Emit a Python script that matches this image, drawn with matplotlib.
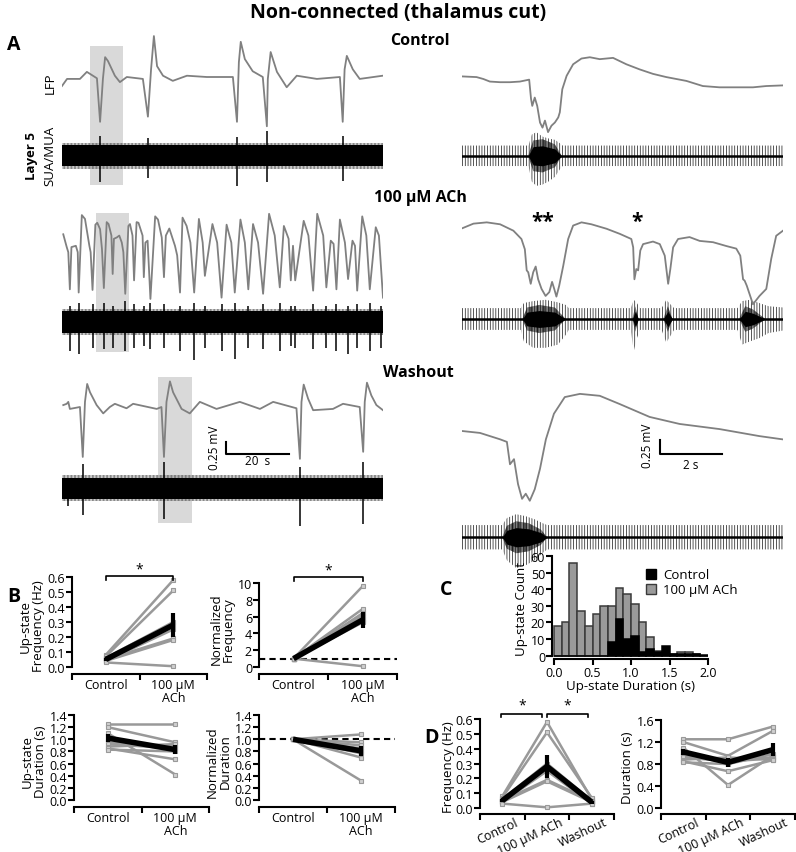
import matplotlib
matplotlib.use('Agg')
import matplotlib.pyplot as plt
import numpy as np
from matplotlib.patches import Patch

plt.rcParams['font.family'] = ['Open Sans', 'DejaVu Sans']
plt.rcParams['hatch.linewidth'] = 0.5

# ---------------- DATA ----------------
# Panel A, left column (time in s, LFP in mV)
ctrl_long_t = [0, 1.6, 5.7, 7.9, 11.1, 12.1, 13.0, 13.7, 14.6, 16.8, 18.4, 20.6, 25.7, 27.3, 28.3, 29.2,
               30.2, 32.1, 35.2, 39.7, 46.0, 54.3, 55.6, 56.2, 56.8, 58.1, 60.6, 63.8, 65.1, 65.4, 66.3,
               68.3, 71.4, 74.6, 81.0, 88.3, 89.2, 89.8, 90.5, 92.4, 94.6, 101.9]
ctrl_long_v = [-0.14, -0.03, -0.03, 0.08, -0.02, -0.70, -0.03, 0.31, 0.25, 0.02, -0.08, 0, -0.03, -0.62,
               0.12, 0.64, 0.17, 0.02, -0.06, 0.02, 0, 0, -0.70, 0.23, 0.55, 0.28, 0.09, 0, -0.77, -0.03,
               0.39, 0.08, -0.16, 0.02, -0.03, 0, -0.70, 0.12, 0.33, 0.12, -0.03, 0.02]
ctrl_long_burst_t = [12.1, 27.3, 55.6, 65.1, 89.2]
ctrl_long_burst_up = [0.31, 0.27, 0.30, 0.38, 0.31]
ctrl_long_burst_dn = [0.41, 0.35, 0.47, 0.41, 0.39]

ach_long_t = [0.4, 1.5, 2.0, 2.5, 3.0, 4.4, 5.0, 5.3, 6.3, 7.3, 8.7, 9.1, 9.7, 10.6, 11.2, 12.1, 12.7, 13.3,
              14.2, 14.8, 15.7, 16.1, 16.5, 17.4, 18.2, 19.0, 19.5, 20.1, 21.1, 21.6, 22.4, 22.9, 23.7,
              24.3, 25.6, 26.0, 26.5, 27.2, 28.1, 29.6, 30.5, 31.7, 32.4, 33.0, 34.1, 35.9, 36.6, 37.5,
              38.3, 39.6, 40.8, 42.0, 43.5, 44.7, 45.4, 47.8, 49.3, 50.7, 52.3, 53.8, 54.9, 56.7, 58.1,
              59.2, 60.7, 62.3, 63.9, 65.8, 67.6, 69.2, 70.5, 72.0, 72.7, 73.4, 74.1, 76.8, 78.3, 79.8,
              81.1, 83.0, 84.0, 85.4, 86.3, 87.2, 88.3, 89.9, 90.9, 92.3, 93.1, 93.8, 95.4, 96.7, 97.8,
              99.7, 100.7, 102.0]
ach_long_v = [0.23, 0.03, -0.05, -0.63, 0.03, 0.05, -0.05, -0.68, 0.53, 0.47, 0.05, -0.05, -0.64, 0.38,
              0.41, 0.31, 0, -0.61, 0.42, 0.39, 0.21, -0.39, 0.16, 0.18, 0.21, 0.10, -0.05, -0.70, 0.36,
              0.39, 0.21, -0.49, 0.42, 0.41, 0.21, -0.44, 0.10, 0.13, -0.78, 0.51, 0.46, 0.18, -0.44,
              0.21, 0.32, 0.05, -0.10, -0.68, 0.49, 0.36, 0.10, -0.68, 0.47, 0.10, -0.42, 0.39, 0.10,
              -0.76, 0.38, 0.10, -0.68, 0.46, 0.10, -0.63, 0.39, 0.10, -0.70, 0.55, 0.21, -0.60, 0.36,
              0.16, -0.49, 0.05, -0.49, 0.44, 0.21, -0.65, 0.55, 0.21, -0.60, 0.13, 0.08, -0.63, 0.46,
              0.10, -0.47, 0.13, 0.05, -0.65, 0.51, 0.21, -0.63, 0.34, 0.21, -0.76]
ach_long_burst_t = [2.5, 5.3, 9.7, 13.3, 16.1, 20.1, 22.9, 26.0, 28.1, 32.4, 37.5, 42.0, 45.4, 50.7, 54.9,
                    59.2, 63.9, 69.2, 72.7, 74.1, 79.8, 84.0, 87.2, 90.9, 93.8, 97.8, 101.5]
ach_long_burst_up = [0.25, 0.30, 0.28, 0.30, 0.25, 0.32, 0.28, 0.25, 0.30, 0.28, 0.25, 0.30, 0.25, 0.28,
                     0.30, 0.25, 0.28, 0.30, 0.25, 0.25, 0.28, 0.25, 0.28, 0.25, 0.28, 0.30, 0.25]
ach_long_burst_dn = [0.45, 0.50, 0.40, 0.42, 0.40, 0.45, 0.40, 0.38, 0.42, 0.40, 0.45, 0.60, 0.40, 0.45,
                     0.58, 0.40, 0.42, 0.45, 0.38, 0.40, 0.42, 0.40, 0.45, 0.50, 0.40, 0.45, 0.40]

wash_long_t = [0.4, 1.5, 2.0, 2.5, 5.7, 6.6, 7.3, 8.0, 8.9, 11.0, 13.1, 15.2, 16.8, 20.5, 22.6, 30.1, 31.6,
               32.4, 33.2, 34.3, 35.3, 38.0, 40.6, 43.8, 49.1, 56.5, 62.9, 67.1, 74.5, 75.6, 76.1, 76.8,
               78.2, 79.8, 86.1, 89.3, 94.6, 95.7, 96.2, 96.9, 98.3, 99.9, 102.0]
wash_long_v = [0.03, 0.05, 0.08, -0.03, 0, -0.78, 0.08, 0.36, 0.23, 0.03, -0.10, 0, 0.05, -0.02, 0.05,
               -0.03, 0, -0.78, 0.08, 0.40, 0.23, -0.03, -0.10, 0.08, -0.03, 0.08, -0.03, 0.08, -0.02,
               -0.81, 0.08, 0.35, 0.13, -0.05, -0.03, 0.05, 0, -0.70, 0.08, 0.38, 0.18, 0.03, -0.05]
wash_long_burst_t = [2.0, 6.6, 32.4, 75.6, 95.7]
wash_long_burst_up = [0.16, 0.38, 0.41, 0.34, 0.41]
wash_long_burst_dn = [0.27, 0.41, 0.48, 0.59, 0.56]

# Panel A, right column (expanded, time in s)
ctrl_zoom_t = [0.02, 0.47, 0.69, 0.9, 1.23, 1.55, 1.87, 2.17, 2.23, 2.27, 2.35, 2.43, 2.52, 2.60, 2.68, 2.78,
               2.89, 3.0, 3.11, 3.16, 3.24, 3.38, 3.59, 3.86, 4.13, 4.45, 4.88, 5.31, 5.74, 6.17, 6.60,
               7.25, 7.78, 8.32, 8.75, 9.40, 9.83, 10.37]
ctrl_zoom_v = [0.04, 0.03, 0, -0.04, -0.05, -0.05, -0.04, -0.01, -0.31, -0.42, -0.29, -0.42, -0.68, -0.76,
               -0.65, -0.83, -0.73, -0.68, -0.60, -0.52, -0.16, 0.05, 0.23, 0.32, 0.34, 0.31, 0.33, 0.23,
               0.15, 0.08, 0.03, -0.03, -0.11, -0.13, -0.13, -0.13, -0.11, -0.10]
ctrl_zoom_env_t = [0, 2.15, 2.25, 2.4, 2.6, 2.8, 3.0, 3.15, 3.25, 10.37]
ctrl_zoom_env_up = [0.16, 0.16, 0.33, 0.37, 0.30, 0.27, 0.25, 0.20, 0.16, 0.16]
ctrl_zoom_env_dn = [0.16, 0.16, 0.40, 0.47, 0.45, 0.40, 0.33, 0.22, 0.16, 0.16]
ctrl_zoom_core_t = [2.15, 2.3, 2.6, 3.0, 3.2]
ctrl_zoom_core_h = [0.02, 0.24, 0.26, 0.18, 0.02]

ach_zoom_t = [0.02, 0.37, 0.80, 1.23, 1.66, 1.92, 2.03, 2.09, 2.14, 2.22, 2.30, 2.38, 2.46, 2.57, 2.70, 2.82,
              2.91, 2.98, 3.05, 3.14, 3.27, 3.43, 3.59, 3.86, 4.18, 4.67, 5.10, 5.47, 5.53, 5.57, 5.63,
              5.69, 5.76, 5.85, 6.17, 6.39, 6.55, 6.66, 6.73, 6.82, 6.98, 7.35, 7.68, 8.11, 8.54, 8.86,
              8.99, 9.08, 9.13, 9.20, 9.40, 9.61, 9.83, 9.99, 10.15, 10.37]
ach_zoom_v = [0.17, 0.24, 0.26, 0.23, 0.13, 0, -0.16, -0.49, -0.52, -0.70, -0.52, -0.43, -0.63, -0.78,
              -0.89, -0.83, -0.67, -0.78, -0.90, -0.73, -0.42, 0, 0.21, 0.26, 0.23, 0.16, 0.08, 0, -0.13,
              -0.63, -0.47, -0.49, -0.18, -0.08, -0.04, -0.08, -0.26, -0.70, -0.47, -0.13, 0, 0.03,
              -0.03, -0.05, -0.11, -0.15, -0.26, -0.63, -0.65, -0.73, -1.02, -0.89, -0.78, -0.31, 0.05,
              0.13]
ach_zoom_env_t = [0, 1.9, 2.0, 2.3, 2.7, 3.1, 3.35, 3.45, 5.45, 5.55, 5.65, 5.75, 6.45, 6.6, 6.75, 6.85,
                  8.9, 9.05, 9.3, 9.6, 9.9, 10.37]
ach_zoom_env_up = [0.17, 0.17, 0.25, 0.28, 0.30, 0.26, 0.22, 0.17, 0.17, 0.30, 0.25, 0.17, 0.17, 0.30,
                   0.22, 0.17, 0.17, 0.28, 0.30, 0.25, 0.20, 0.18]
ach_zoom_env_dn = [0.17, 0.17, 0.35, 0.45, 0.45, 0.40, 0.25, 0.17, 0.17, 0.50, 0.30, 0.17, 0.17, 0.37,
                   0.25, 0.17, 0.17, 0.40, 0.35, 0.30, 0.22, 0.18]
ach_zoom_core_t = [1.95, 2.1, 2.5, 3.0, 3.35, 5.5, 5.6, 5.7, 6.5, 6.65, 6.8, 8.95, 9.15, 9.4, 9.8]
ach_zoom_core_h = [0.0, 0.18, 0.22, 0.18, 0.0, 0.0, 0.20, 0.0, 0.0, 0.20, 0.0, 0.0, 0.20, 0.15, 0.0]

wash_zoom_t = [0, 0.58, 1.23, 1.45, 1.55, 1.68, 1.81, 1.94, 2.06, 2.19, 2.35, 2.52, 2.71, 2.97, 3.32, 3.81,
               4.45, 5.10, 6.06, 7.03, 8.32, 9.61, 10.35]
wash_zoom_v = [0, -0.03, -0.13, -0.17, -0.52, -0.44, -0.83, -1.06, -0.98, -1.09, -0.91, -0.59, -0.13,
               0.27, 0.53, 0.58, 0.55, 0.42, 0.22, 0.11, 0.03, -0.08, -0.13]
wash_zoom_env_t = [0, 1.3, 1.45, 1.75, 2.05, 2.35, 2.6, 2.75, 10.37]
wash_zoom_env_up = [0.19, 0.19, 0.30, 0.36, 0.33, 0.28, 0.22, 0.19, 0.19]
wash_zoom_env_dn = [0.19, 0.19, 0.36, 0.48, 0.44, 0.36, 0.25, 0.19, 0.19]
wash_zoom_core_t = [1.3, 1.45, 1.75, 2.15, 2.55, 2.75]
wash_zoom_core_h = [0.0, 0.18, 0.25, 0.22, 0.12, 0.0]

# highlighted windows (s)
ctrl_window = (8.9, 19.4)
ach_window = (10.8, 21.3)
wash_window = (30.5, 41.3)

# Panel B / D: per-slice values
conditions = ['Control', '100 \u03bcM ACh', 'Washout']
freq_ctrl = [0.08, 0.07, 0.06, 0.05, 0.04, 0.05, 0.04, 0.03]
freq_ach = [0.58, 0.51, 0.30, 0.28, 0.25, 0.19, 0.18, 0.005]
freq_wash = [0.06, 0.07, 0.05, 0.04, 0.03, 0.05, 0.04, 0.03]
norm_freq_ach = [9.6, 6.9, 6.4, 6.1, 5.7, 5.5, 5.3, 0.1]
dur_ctrl = [1.25, 1.20, 1.10, 0.95, 0.92, 0.88, 0.85, 0.83]
dur_ach = [1.25, 0.95, 0.42, 0.88, 0.85, 0.92, 0.67, 0.80]
dur_wash = [1.48, 1.40, 0.95, 0.92, 0.90, 0.88, 0.87, 0.98]
norm_dur_ach = [1.08, 0.95, 0.32, 0.90, 0.85, 0.77, 0.70, 0.80]

freq_mean = [0.05, 0.28, 0.04]
freq_sem = [0.01, 0.08, 0.01]
norm_freq_mean = [1.0, 5.6]
norm_freq_sem = [0.0, 1.0]
dur_mean = [1.02, 0.83, 1.06]
dur_sem = [0.06, 0.08, 0.12]
norm_dur_mean = [1.0, 0.81]
norm_dur_sem = [0.0, 0.08]

# Panel C histogram
bin_starts = [0.0, 0.1, 0.2, 0.3, 0.4, 0.5, 0.6, 0.7, 0.8, 0.9, 1.0, 1.1, 1.2, 1.3, 1.4, 1.5, 1.6, 1.7,
              1.8, 1.9]
hist_ach = [18, 20, 56, 27, 18, 25, 30, 30, 41, 37, 31, 20, 11, 3, 0, 1, 2, 2, 1, 0]
hist_ctrl = [0, 0, 0, 0, 0, 0, 0, 8, 22, 10, 12, 2, 4, 2, 6, 1, 1, 1, 1, 0.5]

# ---------------- FIGURE ----------------
W, H = 796, 853
fig = plt.figure(figsize=(W / 100, H / 100), dpi=100)
LFP_C = '#808080'
GRAY = '#999999'
PXMV = 64.0


def rect(x0, y0, x1, y1):
    return [x0 / W, 1 - y1 / H, (x1 - x0) / W, (y1 - y0) / H]


def ftext(x, y, s, **kw):
    return fig.text(x / W, 1 - y / H, s, **kw)


def trace_ax(x0, x1, y0, y1, base, tmax):
    ax = fig.add_axes(rect(x0, y0, x1, y1))
    ax.set_xlim(0, tmax)
    ax.set_ylim(-(y1 - base) / PXMV, (base - y0) / PXMV)
    ax.axis('off')
    return ax


def long_row(ax, t, v, off, bt, bu, bd, window, box_top, box_bot, tmax):
    ax.fill_between(list(window), box_bot, box_top, color='#d9d9d9', lw=0, zorder=0)
    ax.plot(t, v, color=LFP_C, lw=1.3, zorder=3)
    ax.fill_between([0, tmax], off - 0.2, off + 0.2, facecolor='none', edgecolor='#555555',
                    hatch='|' * 12, lw=0, zorder=1)
    ax.fill_between([0, tmax], off - 0.165, off + 0.165, color='black', lw=0, zorder=2)
    ax.vlines(bt, off - np.array(bd), off + np.array(bu), color='black', lw=1.1, zorder=2)


def zoom_row(ax, t, v, off, et, eu, ed, ct, ch, tmax):
    ax.plot(t, v, color=LFP_C, lw=1.3, zorder=3)
    ax.fill_between(et, off - np.array(ed), off + np.array(eu), facecolor='none', edgecolor='#111111',
                    hatch='|' * 6, lw=0, zorder=1)
    ax.fill_between(ct, off - np.array(ch), off + np.array(ch), facecolor='none', edgecolor='black',
                    hatch='|' * 14, lw=0, zorder=2)
    ax.fill_between(ct, off - 0.6 * np.array(ch), off + 0.6 * np.array(ch), color='black', lw=0, zorder=2)
    ax.plot([0, tmax], [off, off], color='black', lw=1.8, zorder=2)


TL, TR = 102.0, 10.37
# Row 1: Control
a = trace_ax(62, 383, 25, 200, 78, TL)
long_row(a, ctrl_long_t, ctrl_long_v, -1.23, ctrl_long_burst_t, ctrl_long_burst_up, ctrl_long_burst_dn,
         ctrl_window, 0.48, -1.69, TL)
a = trace_ax(462, 783, 25, 200, 80, TR)
zoom_row(a, ctrl_zoom_t, ctrl_zoom_v, -1.20, ctrl_zoom_env_t, ctrl_zoom_env_up, ctrl_zoom_env_dn,
         ctrl_zoom_core_t, ctrl_zoom_core_h, TR)
# Row 2: ACh
a = trace_ax(62, 383, 205, 365, 250, TL)
long_row(a, ach_long_t, ach_long_v, -1.14, ach_long_burst_t, ach_long_burst_up, ach_long_burst_dn,
         ach_window, 0.56, -1.61, TL)
a = trace_ax(462, 783, 205, 365, 240, TR)
zoom_row(a, ach_zoom_t, ach_zoom_v, -1.25, ach_zoom_env_t, ach_zoom_env_up, ach_zoom_env_dn,
         ach_zoom_core_t, ach_zoom_core_h, TR)
a.text(2.62, 0.28, '**', ha='center', va='center', fontsize=15, fontweight='bold')
a.text(5.66, 0.28, '*', ha='center', va='center', fontsize=15, fontweight='bold')
# Row 3: Washout
a = trace_ax(62, 383, 370, 580, 408, TL)
long_row(a, wash_long_t, wash_long_v, -1.27, wash_long_burst_t, wash_long_burst_up, wash_long_burst_dn,
         wash_window, 0.47, -1.81, TL)
a.plot([52.1, 52.1, 72.1], [-0.55, -0.73, -0.73], color='black', lw=1.5)
a.text(62.1, -0.84, '20  s', ha='center', va='center', fontsize=8.5)
a.text(48.6, -0.62, '0.25 mV', ha='center', va='center', rotation=90, fontsize=8.5)
a = trace_ax(462, 783, 370, 580, 432, TR)
zoom_row(a, wash_zoom_t, wash_zoom_v, -1.66, wash_zoom_env_t, wash_zoom_env_up, wash_zoom_env_dn,
         wash_zoom_core_t, wash_zoom_core_h, TR)
a.plot([6.39, 6.39, 8.39], [-0.14, -0.36, -0.36], color='black', lw=1.5)
a.text(7.4, -0.53, '2 s', ha='center', va='center', fontsize=8.5)
a.text(6.0, -0.22, '0.25 mV', ha='center', va='center', rotation=90, fontsize=8.5)

# Panel A texts
ftext(398, 13, 'Non-connected (thalamus cut)', ha='center', va='center', fontsize=14, fontweight='bold')
ftext(14, 45, 'A', ha='center', va='center', fontsize=14, fontweight='bold')
ftext(420, 41, 'Control', ha='center', va='center', fontsize=11.5, fontweight='bold')
ftext(420, 198, '100 \u03bcM ACh', ha='center', va='center', fontsize=11.5, fontweight='bold')
ftext(418, 373, 'Washout', ha='center', va='center', fontsize=11.5, fontweight='bold')
ftext(50, 83, 'LFP', ha='center', va='center', rotation=90, fontsize=9.5)
ftext(32, 156, 'Layer 5', ha='center', va='center', rotation=90, fontsize=9.5, fontweight='bold')
ftext(50, 156, 'SUA/MUA', ha='center', va='center', rotation=90, fontsize=9.5)


# ---------------- B / D helpers ----------------
def cat_ax(x0, y0, x1, y1, ncat, ylim, yticks, ylabels, ylabel, cat_labels, rotate=False, labelpad=2):
    ax = fig.add_axes(rect(x0, y0, x1, y1))
    ax.set_xlim(0, ncat)
    ax.set_ylim(*ylim)
    for s in ['top', 'right']:
        ax.spines[s].set_visible(False)
    ax.spines['left'].set_bounds(yticks[0], yticks[-1])
    ax.spines['left'].set_linewidth(1.5)
    ax.spines['bottom'].set_linewidth(1.5)
    ax.set_yticks(yticks)
    ax.set_yticklabels(ylabels)
    ax.set_xticks(range(ncat + 1))
    ax.set_xticklabels([])
    ax.tick_params(axis='both', which='major', direction='out', length=4, width=1.5, labelsize=9, pad=1)
    if rotate:
        ax.set_xticks([i + 0.78 for i in range(ncat)], minor=True)
        ax.set_xticklabels(cat_labels, minor=True, rotation=25, ha='right', va='top',
                           rotation_mode='anchor')
        ax.tick_params(axis='x', which='minor', length=0, labelsize=9, pad=1)
    else:
        ax.set_xticks([i + 0.5 for i in range(ncat)], minor=True)
        ax.set_xticklabels(cat_labels, minor=True, linespacing=0.95)
        ax.tick_params(axis='x', which='minor', length=0, labelsize=9, pad=3)
    ax.set_ylabel(ylabel, fontsize=9.5, labelpad=labelpad, linespacing=0.95)
    return ax


def draw_pairs(ax, series, mean, sem):
    xs = [i + 0.5 for i in range(len(series))]
    for vals in zip(*series):
        ax.plot(xs, vals, color=GRAY, lw=1.8, marker='s', ms=3.2, mfc='#d0d0d0', mec=GRAY, mew=0.8,
                zorder=2, clip_on=False)
    ax.plot(xs, mean, color='black', lw=4, zorder=3, solid_capstyle='butt')
    ax.errorbar(xs, mean, yerr=sem, fmt='none', ecolor='black', elinewidth=3, capsize=0, zorder=4)


def bracket(ax, x0, x1, y, h, star_y):
    ax.plot([x0, x0, x1, x1], [y - h, y, y, y - h], color='black', lw=1.2, clip_on=False)
    ax.text((x0 + x1) / 2, star_y, '*', ha='center', va='center', fontsize=10, clip_on=False)


b_cats = ['Control', '100 \u03bcM\nACh']
ax = cat_ax(72, 578, 207, 675, 2, (-0.047, 0.6), [0.0, 0.1, 0.2, 0.3, 0.4, 0.5, 0.6],
            ['0.0', '0.1', '0.2', '0.3', '0.4', '0.5', '0.6'], 'Up-state\nFrequency (Hz)', b_cats)
draw_pairs(ax, [freq_ctrl, freq_ach], freq_mean[:2], freq_sem[:2])
bracket(ax, 0.5, 1.5, 0.61, 0.03, 0.655)

ax = cat_ax(259, 584, 397, 675, 2, (-0.83, 10), [0, 2, 4, 6, 8, 10], ['0', '2', '4', '6', '8', '10'],
            'Normalized\nFrequency', b_cats)
ax.axhline(1.0, color='black', lw=1.5, ls=(0, (3, 2)), zorder=1)
draw_pairs(ax, [[1.0] * len(norm_freq_ach), norm_freq_ach], norm_freq_mean, norm_freq_sem)
bracket(ax, 0.5, 1.5, 10.7, 0.5, 11.5)

dur_ticks = [0.0, 0.2, 0.4, 0.6, 0.8, 1.0, 1.2, 1.4]
dur_labels = ['0.0', '0.2', '0.4', '0.6', '0.8', '1.0', '1.2', '1.4']
ax = cat_ax(74, 716, 209, 808, 2, (-0.115, 1.4), dur_ticks, dur_labels, 'Up-state\nDuration (s)', b_cats)
draw_pairs(ax, [dur_ctrl, dur_ach], dur_mean[:2], dur_sem[:2])

ax = cat_ax(259, 716, 395, 808, 2, (-0.115, 1.4), dur_ticks, dur_labels, 'Normalized\nDuration', b_cats)
ax.axhline(1.0, color='black', lw=1.5, ls=(0, (3, 2)), zorder=1)
draw_pairs(ax, [[1.0] * len(norm_dur_ach), norm_dur_ach], norm_dur_mean, norm_dur_sem)

# Panel D
ax = cat_ax(480, 720, 614, 815, 3, (-0.04, 0.6), [0.0, 0.1, 0.2, 0.3, 0.4, 0.5, 0.6],
            ['0.0', '0.1', '0.2', '0.3', '0.4', '0.5', '0.6'], 'Frequency (Hz)', conditions, rotate=True,
            labelpad=0)
draw_pairs(ax, [freq_ctrl, freq_ach, freq_wash], freq_mean, freq_sem)
bracket(ax, 0.48, 1.39, 0.635, 0.02, 0.695)
bracket(ax, 1.5, 2.41, 0.635, 0.02, 0.695)

ax = cat_ax(661, 721, 795, 815, 3, (-0.107, 1.6), [0.0, 0.4, 0.8, 1.2, 1.6],
            ['0.0', '0.4', '0.8', '1.2', '1.6'], 'Duration (s)', conditions, rotate=True)
draw_pairs(ax, [dur_ctrl, dur_ach, dur_wash], dur_mean, dur_sem)

# Panel C histogram
ax = fig.add_axes(rect(552, 557, 708, 660))
ax.bar(bin_starts, hist_ach, width=0.1, align='edge', color='#9a9a9a', edgecolor='#3a3a3a', lw=1.1,
       zorder=2)
ax.bar(bin_starts, hist_ctrl, width=0.1, align='edge', color='black', edgecolor='black', lw=1.1, zorder=3)
ax.set_xlim(-0.026, 2.0)
ax.set_ylim(-2, 60)
for s in ['top', 'right']:
    ax.spines[s].set_visible(False)
ax.spines['left'].set_bounds(0, 60)
ax.spines['bottom'].set_bounds(0, 2.0)
ax.spines['left'].set_linewidth(1.5)
ax.spines['bottom'].set_linewidth(1.5)
ax.set_xticks([0.0, 0.5, 1.0, 1.5, 2.0])
ax.set_xticklabels(['0.0', '0.5', '1.0', '1.5', '2.0'])
ax.set_yticks([0, 10, 20, 30, 40, 50, 60])
ax.tick_params(direction='out', length=4, width=1.5, labelsize=9, pad=1)
ax.set_xlabel('Up-state Duration (s)', fontsize=9.5, labelpad=0)
ax.set_ylabel('Up-state Count', fontsize=9.5, labelpad=2)
ax.legend([Patch(facecolor='black', edgecolor='black'), Patch(facecolor='#9a9a9a', edgecolor='#3a3a3a')],
          ['Control', '100 \u03bcM ACh'], loc='upper left', bbox_to_anchor=(0.6, 0.88), frameon=False,
          fontsize=9.5, handlelength=0.8, handleheight=0.8, handletextpad=0.5, labelspacing=0.15,
          borderpad=0, borderaxespad=0)

ftext(14, 597, 'B', ha='center', va='center', fontsize=14, fontweight='bold')
ftext(446, 590, 'C', ha='center', va='center', fontsize=14, fontweight='bold')
ftext(431, 738, 'D', ha='center', va='center', fontsize=14, fontweight='bold')

fig.savefig('out.png', dpi=100)
